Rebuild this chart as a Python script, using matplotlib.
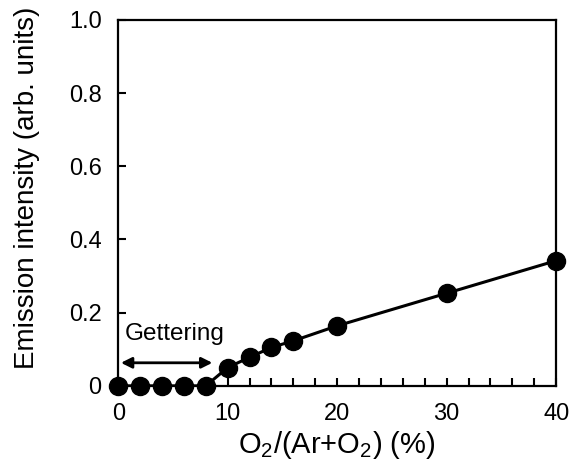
import matplotlib
matplotlib.use('Agg')
import matplotlib.pyplot as plt
import numpy as np

plt.rcParams['font.family'] = ['Liberation Sans', 'DejaVu Sans']
plt.rcParams['mathtext.fontset'] = 'custom'
plt.rcParams['mathtext.rm'] = 'Liberation Sans'

# O2 ratio (%) and emission intensity
o2_ratio = [0, 2, 4, 6, 8, 10, 12, 14, 16, 20, 30, 40]
intensity = [0, 0, 0, 0, 0, 0.05, 0.078, 0.105, 0.123, 0.164, 0.253, 0.342]

fig = plt.figure(figsize=(5.71, 4.61), dpi=100)
ax = fig.add_axes([0.207, 0.163, 0.767, 0.794])

ax.plot(o2_ratio, intensity, '-', color='black', lw=2.2)
ax.plot(o2_ratio, intensity, 'o', color='black', ms=13, clip_on=False, zorder=5)

ax.set_xlim(0, 40)
ax.set_ylim(0, 1.0)
ax.set_xticks([0, 10, 20, 30, 40])
ax.set_xticks(np.arange(0, 41, 2), minor=True)
ax.set_yticks([0, 0.2, 0.4, 0.6, 0.8, 1.0])
ax.set_yticklabels(['0', '0.2', '0.4', '0.6', '0.8', '1.0'])
ax.tick_params(which='both', direction='in', labelsize=17, width=1.5, pad=12)
ax.tick_params(which='major', length=6)
ax.tick_params(which='minor', length=6)
for s in ax.spines.values():
    s.set_linewidth(1.6)

ax.set_xlabel('O$_\\mathrm{2}$/(Ar+O$_\\mathrm{2}$) (%)', fontsize=21, labelpad=3)
ax.set_ylabel('Emission intensity (arb. units)', fontsize=20)
ax.yaxis.set_label_coords(-0.178, 0.54)

ax.annotate('', xy=(0.25, 0.063), xytext=(8.6, 0.063),
            arrowprops=dict(arrowstyle='<|-|>', color='black', lw=2,
                            mutation_scale=16, shrinkA=0, shrinkB=0))
ax.text(0.6, 0.142, 'Gettering', fontsize=17.5, ha='left', va='center')

fig.savefig('out.png', dpi=100)
